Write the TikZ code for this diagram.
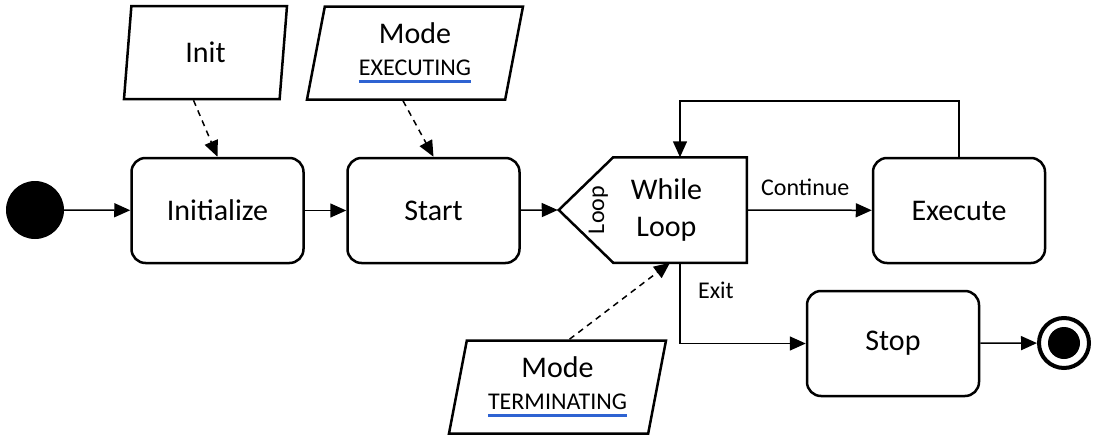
\documentclass[tikz,border=0pt]{standalone}
\usepackage{fontspec}
\setmainfont{Carlito}
\usetikzlibrary{shapes.geometric,arrows.meta,positioning}
\definecolor{ulblue}{HTML}{2E63D2}
\newcommand{\blueul}[1]{\setbox0\hbox{#1}\rlap{\textcolor{ulblue}{\rule[-7pt]{\wd0}{3pt}}}\box0}
\newcommand{\bigtext}{\fontsize{30}{37}\selectfont}
\newcommand{\smalltext}{\fontsize{24}{29}\selectfont}

\tikzstyle{action} = [draw=black,line width=2.5pt,rectangle,rounded corners=14pt,minimum width=172pt,minimum height=105pt,font=\bigtext]
\tikzstyle{object} = [draw=black,line width=2.5pt,trapezium,trapezium left angle=75,trapezium right angle=105,trapezium stretches body,minimum height=93pt,align=center,font=\bigtext]
\tikzstyle{loopbody} = [rectangle,outer sep=0pt,minimum width=160.5pt,minimum height=105.5pt,align=center,font=\bigtext]
\tikzstyle{loopline} = [draw=black,line width=2.5pt,line join=miter]
\tikzstyle{flow} = [-{Triangle[length=16pt,width=14pt]},line width=1.5pt]
\tikzstyle{objflow} = [flow,dash pattern=on 6pt off 5pt]

\begin{document}
\begin{tikzpicture}[x=1pt,y=-1pt]
	\useasboundingbox (0,0) rectangle (1098,439);
	\node (start) [circle,fill=black,minimum size=58pt] at (35,210) {};
	\node (init) [action] at (217.5,210.5) {Initialize};
	\node (begin) [action] at (433.5,210.5) {Start};
	\node (loop) [loopbody] at (666.5,210) {While\\Loop};
	\draw [loopline] (loop.north east) -- (loop.south east) -- ([xshift=-133.5pt]loop.south east) -- ([xshift=-188pt]loop.east) -- ([xshift=-133.5pt]loop.north east) -- cycle;
	\coordinate (looptip) at ([xshift=-189pt]loop.east);
	\node (loopside) [rotate=90,font=\smalltext] at ([xshift=-148.5pt]loop.east) {Loop};
	\node (execute) [action] at (959,210.5) {Execute};
	\node (stop) [action] at (893,343.5) {Stop};
	\node (end) [circle,draw=black,line width=4pt,minimum size=50pt,path picture={\fill [black] (path picture bounding box.center) circle (16pt);}] at (1064,343) {};
	\node (objinit) [object,minimum width=163pt] at (205.5,52.5) {Init};
	\node (objexec) [object,minimum width=216pt] at (415,53) {Mode\\[-5pt]{\smalltext\blueul{EXECUTING}}};
	\node (objterm) [object,minimum width=217pt] at (557.5,387) {Mode\\[-5pt]{\smalltext\blueul{TERMINATING}}};
	\draw [flow] (start) -- (init);
	\draw [flow] (init) -- (begin);
	\draw [flow] (begin) -- (looptip);
	\draw [flow] (loop.east) -- (execute) node [midway,above,yshift=10pt,xshift=-4pt,font=\smalltext] {Continue};
	\draw [flow] (execute.north) -- ++(0,-56) -| ([xshift=13.5pt]loop.north);
	\draw [flow] ([xshift=13.5pt]loop.south) |- (stop.west) node [pos=0.17,right,xshift=14pt,font=\smalltext] {Exit};
	\draw [flow] (stop) -- (end);
	\draw [objflow] ([xshift=-12pt]objinit.south) -- (init.north);
	\draw [objflow] ([xshift=-12pt]objexec.south) -- (begin.north);
	\draw [objflow] ([xshift=12pt]objterm.north) -- ([xshift=3.5pt]loop.south);
\end{tikzpicture}
\end{document}
